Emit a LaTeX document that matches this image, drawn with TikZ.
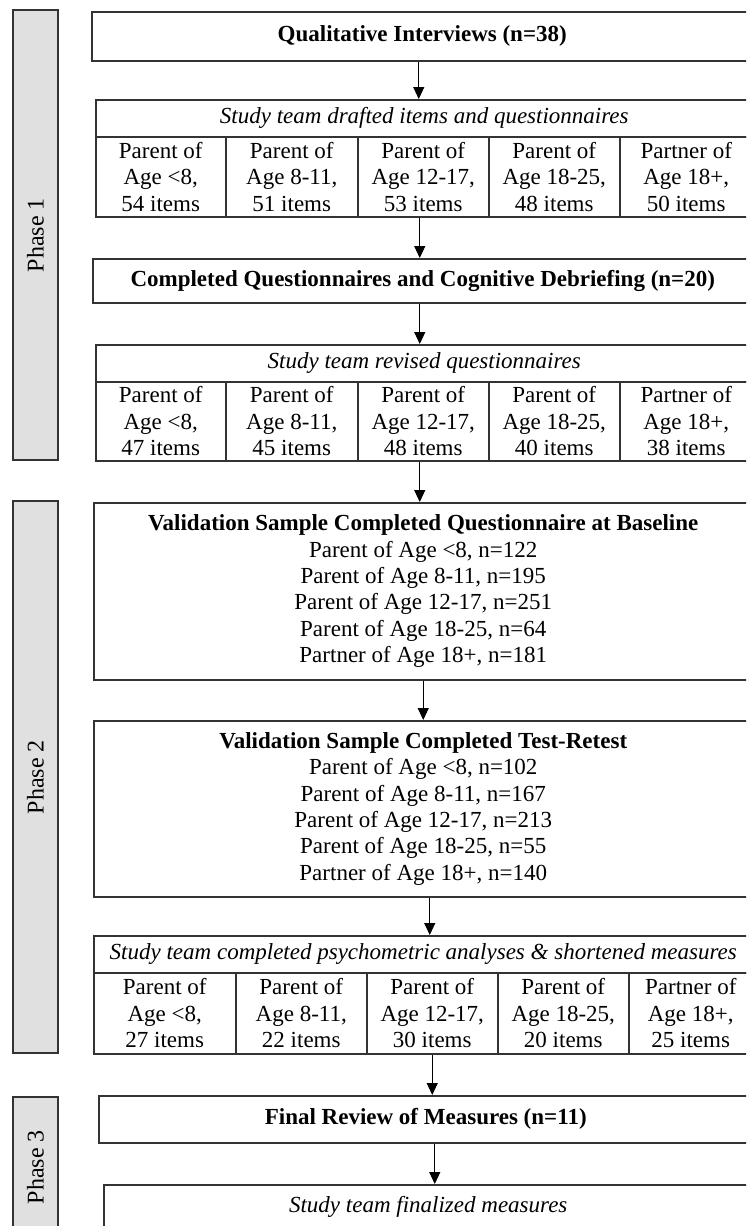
\documentclass[tikz,border=0pt]{standalone}
\usepackage{fontspec}
\setmainfont{Liberation Serif}
\usetikzlibrary{arrows.meta}

\begin{document}
\begin{tikzpicture}[x=0.5pt,y=-0.5pt,
  box/.style={draw=black!80,line width=0.75pt,anchor=north west,align=center,inner sep=0pt,font=\fontsize{11.5}{13.2}\selectfont},
  cell/.style={box,minimum height=40pt},
  head/.style={box,minimum height=18.5pt,font=\fontsize{11.5}{13.2}\selectfont\itshape},
  phase/.style={draw=black!80,line width=0.75pt,fill=black!12,minimum height=22.5pt,rotate=90,inner sep=0pt,font=\fontsize{12}{14}\selectfont},
  arr/.style={line width=0.5pt,-{Triangle[width=5.5pt,length=6pt]}}]
\clip (0,0) rectangle (746,1226);

% phases
\node (ph1) [phase,minimum width=225pt] at (35.5,235) {Phase 1};
\node (ph2) [phase,minimum width=276pt] at (35.5,777) {Phase 2};
\node (ph3) [phase,minimum width=70pt] at (35.5,1167) {Phase 3};

% phase 1
\node (qual) [box,minimum width=330.5pt,minimum height=24.5pt] at (91,11) {\textbf{Qualitative Interviews (n=38)}};

\node (h1) [head,minimum width=328.5pt] at (95,99) {Study team drafted items and questionnaires};
\node (c11) [cell,minimum width=65pt] at (95,136) {Parent of\\Age <8,\\54 items};
\node (c12) [cell,minimum width=66pt] at (225,136) {Parent of\\Age 8-11,\\51 items};
\node (c13) [cell,minimum width=65.5pt] at (357,136) {Parent of\\Age 12-17,\\53 items};
\node (c14) [cell,minimum width=65.5pt] at (488,136) {Parent of\\Age 18-25,\\48 items};
\node (c15) [cell,minimum width=66.5pt] at (619,136) {Partner of\\Age 18+,\\50 items};

\node (comp) [box,minimum width=330pt,minimum height=22pt] at (92,258) {\textbf{Completed Questionnaires and Cognitive Debriefing (n=20)}};

\node (h2) [head,minimum width=328.5pt] at (95,344) {Study team revised questionnaires};
\node (c21) [cell,minimum width=65pt,minimum height=39.5pt] at (95,381) {Parent of\\Age <8,\\47 items};
\node (c22) [cell,minimum width=66pt,minimum height=39.5pt] at (225,381) {Parent of\\Age 8-11,\\45 items};
\node (c23) [cell,minimum width=65.5pt,minimum height=39.5pt] at (357,381) {Parent of\\Age 12-17,\\48 items};
\node (c24) [cell,minimum width=65.5pt,minimum height=39.5pt] at (488,381) {Parent of\\Age 18-25,\\40 items};
\node (c25) [cell,minimum width=66.5pt,minimum height=39.5pt] at (619,381) {Partner of\\Age 18+,\\38 items};

% phase 2
\node (val) [box,minimum width=329.5pt,minimum height=88.5pt] at (93,502) {\textbf{Validation Sample Completed Questionnaire at Baseline}\\Parent of Age <8, n=122\\Parent of Age 8-11, n=195\\Parent of Age 12-17, n=251\\Parent of Age 18-25, n=64\\Partner of Age 18+, n=181};
\node (test) [box,minimum width=329.5pt,minimum height=88pt] at (93,720) {\textbf{Validation Sample Completed Test-Retest}\\Parent of Age <8, n=102\\Parent of Age 8-11, n=167\\Parent of Age 12-17, n=213\\Parent of Age 18-25, n=55\\Partner of Age 18+, n=140};

\node (h3) [head,minimum width=329.5pt] at (93,935) {Study team completed psychometric analyses \& shortened measures};
\node (c31) [cell,minimum width=71pt,minimum height=40.5pt] at (93,972) {Parent of\\Age <8,\\27 items};
\node (c32) [cell,minimum width=65.5pt,minimum height=40.5pt] at (235,972) {Parent of\\Age 8-11,\\22 items};
\node (c33) [cell,minimum width=65.5pt,minimum height=40.5pt] at (366,972) {Parent of\\Age 12-17,\\30 items};
\node (c34) [cell,minimum width=65.5pt,minimum height=40.5pt] at (497,972) {Parent of\\Age 18-25,\\20 items};
\node (c35) [cell,minimum width=62pt,minimum height=40.5pt] at (628,972) {Partner of\\Age 18+,\\25 items};

% phase 3
\node (fin) [box,minimum width=327pt,minimum height=23.5pt] at (98,1095) {\textbf{Final Review of Measures (n=11)}};
\node (h4) [head,minimum width=324.5pt,minimum height=22pt] at (103,1184) {Study team finalized measures};

% arrows
\draw[arr] ([xshift=-1.75pt]qual.south) coordinate (a1) -- (a1 |- h1.north);
\draw[arr] ([xshift=-1.75pt]c13.south) coordinate (a2) -- (a2 |- comp.north);
\draw[arr] ([xshift=-1.5pt]comp.south) coordinate (a3) -- (a3 |- h2.north);
\draw[arr] ([xshift=-1.75pt]c23.south) coordinate (a4) -- (a4 |- val.north);
\draw[arr] (val.south) coordinate (a5) -- (a5 |- test.north);
\draw[arr] ([xshift=3.25pt]test.south) coordinate (a6) -- (a6 |- h3.north);
\draw[arr] (c33.south) coordinate (a7) -- (a7 |- fin.north);
\draw[arr] ([xshift=4.5pt]fin.south) coordinate (a8) -- (a8 |- h4.north);
\end{tikzpicture}
\end{document}
